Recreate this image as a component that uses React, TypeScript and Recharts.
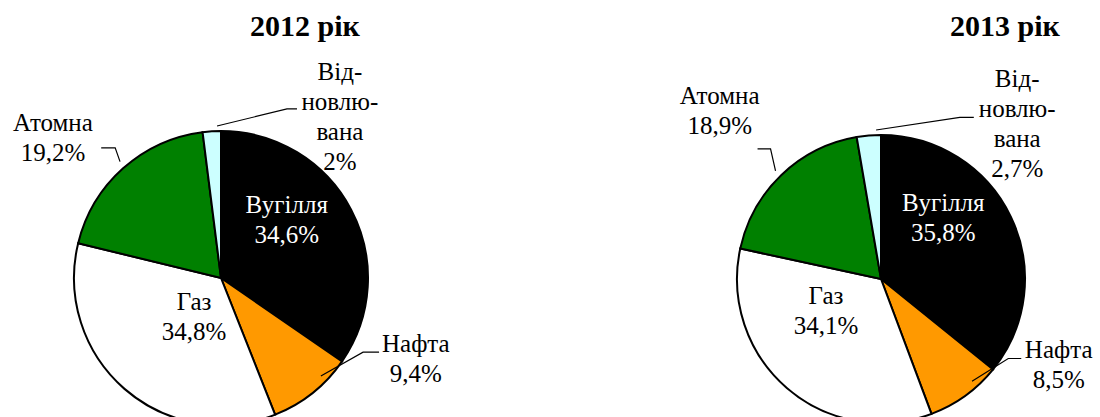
import * as React from 'react';
import { PieChart, Pie, Cell } from 'recharts';

// Energy mix shares, %
const categories = ['Вугілля', 'Нафта', 'Газ', 'Атомна', 'Відновлювана'];
const shares2012 = [34.6, 9.4, 34.8, 19.2, 2];
const shares2013 = [35.8, 8.5, 34.1, 18.9, 2.7];
const labelNames = [['Вугілля'], ['Нафта'], ['Газ'], ['Атомна'], ['Від-', 'новлю-', 'вана']];
const titles = ['2012 рік', '2013 рік'];

const colors = ['#000000', '#ff9900', '#ffffff', '#008000', '#ccffff'];
const textColors = ['#ffffff', '#000000', '#000000', '#000000', '#000000'];
const FONT = '"Liberation Serif", "Times New Roman", serif';

// label placement: r = radius (x outerRadius), da = angle shift from slice middle (deg)
// leader: sa = start shift, er/ea = elbow radius/shift, h = horizontal tail
type Leader = { sa: number; er: number; ea: number; h: number };
type Place = { r: number; da: number; leader?: Leader };

const layout2012: Place[] = [
  { r: 0.605, da: -9.6 },
  { r: 1.48, da: -28.2, leader: { sa: -7, er: 1.136, ea: -23.2, h: 16 } },
  { r: 0.333, da: -14.4 },
  { r: 1.44, da: -8.6, leader: { sa: 1, er: 1.093, ea: 2.9, h: -14 } },
  { r: 1.36, da: 41.9, leader: { sa: 4, er: 1.216, ea: 27, h: 10 } },
];
const layout2013: Place[] = [
  { r: 0.61, da: -14.4 },
  { r: 1.415, da: -27.9, leader: { sa: -6, er: 1.09, ea: -21.6, h: 13 } },
  { r: 0.43, da: 13 },
  { r: 1.57, da: 0, leader: { sa: -0.5, er: 1.136, ea: 3.6, h: -13 } },
  { r: 1.434, da: 48, leader: { sa: 4.9, er: 1.234, ea: 33, h: 14 } },
];

const pies = [
  { vals: shares2012, layout: layout2012, cx: 216, cy: 273, r: 147, titleX: 305 },
  { vals: shares2013, layout: layout2013, cx: 876, cy: 274, r: 144, titleX: 1005 },
];

const toRows = (vals: number[]) => categories.map((name, i) => ({ name, value: vals[i] }));
const fmt = (v: number) => String(v).replace('.', ',') + '%';

// slice labels (clockwise from 12 o'clock, same order as the Pie)
function PieLabels({ vals, layout, cx, cy, r }: any) {
  const total = vals.reduce((a: number, b: number) => a + b, 0);
  let acc = 0;
  return (
    <g>
      {vals.map((v: number, index: number) => {
        const mid = ((acc + v / 2) / total) * 360;
        acc += v;
        const L = layout[index];
        const pt = (k: number, a: number) => {
          const t = ((mid + a) * Math.PI) / 180;
          return [cx + k * r * Math.sin(t), cy - k * r * Math.cos(t)];
        };
        const [tx, ty] = pt(L.r, L.da);
        const lines = [...labelNames[index], fmt(v)];
        // baseline of first line; 8.5 ~ half cap height
        const y0 = ty - (lines.length - 1) * 15 + 8.5;
        let leader = null;
        if (L.leader) {
          const [sx, sy] = pt(1, L.leader.sa);
          const [ex, ey] = pt(L.leader.er, L.leader.ea);
          leader = (
            <polyline
              points={`${sx},${sy} ${ex},${ey} ${ex + L.leader.h},${ey}`}
              fill="none"
              stroke="#000"
              strokeWidth={1.2}
            />
          );
        }
        return (
          <g key={index}>
            {leader}
            {lines.map((s, i) => (
              <text
                key={i}
                x={tx}
                y={y0 + i * 30}
                textAnchor="middle"
                fill={textColors[index]}
                style={{ fontFamily: FONT, fontSize: 25 }}
              >
                {s}
              </text>
            ))}
          </g>
        );
      })}
    </g>
  );
}

export default function App() {
  return (
    <div style={{ position: 'relative', width: 1100, height: 417, background: '#fff' }}>
      <style>{'body{margin:0;overflow:hidden}'}</style>
      <PieChart width={1100} height={417} style={{ position: 'absolute', left: 0, top: 0 }}>
        {pies.map((p, k) => (
          <Pie
            key={k}
            data={toRows(p.vals)}
            dataKey="value"
            cx={p.cx}
            cy={p.cy}
            outerRadius={p.r}
            startAngle={90}
            endAngle={-270}
            stroke="#000"
            strokeWidth={2}
            label={false}
            labelLine={false}
            isAnimationActive={false}
          >
            {categories.map((c, i) => (
              <Cell key={c} fill={colors[i]} />
            ))}
          </Pie>
        ))}
      </PieChart>
      <svg width={1100} height={417} style={{ position: 'absolute', left: 0, top: 0, pointerEvents: 'none' }}>
        {pies.map((p, k) => (
          <g key={k}>
            <PieLabels {...p} />
            <text x={p.titleX} y={36} textAnchor="middle" style={{ fontFamily: FONT, fontWeight: 'bold', fontSize: 30 }}>
              {titles[k]}
            </text>
          </g>
        ))}
      </svg>
    </div>
  );
}
